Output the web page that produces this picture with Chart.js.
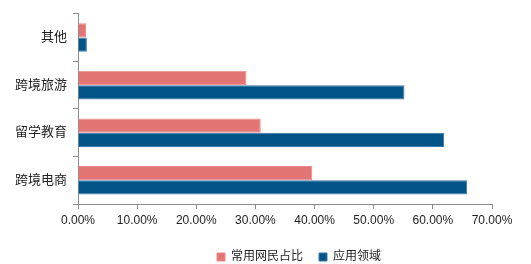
<!DOCTYPE html>
<html>
<head>
<meta charset="utf-8">
<script src="https://cdn.jsdelivr.net/npm/chart.js@4"></script>
<style>
  html, body { margin: 0; padding: 0; background: #fff; }
  #wrap { width: 531px; height: 264px; }
</style>
</head>
<body>
<div id="wrap"><canvas id="chart"></canvas></div>
<script>
// 分类
const categories = ["其他", "跨境旅游", "留学教育", "跨境电商"];
// 系列
const seriesNames = ["常用网民占比", "应用领域"];
const netizenShare = [1.35, 28.5, 30.9, 39.6];
const appField = [1.5, 55.2, 61.9, 65.8];
// 刻度
const xTicks = [0, 10, 20, 30, 40, 50, 60, 70];

const font = { family: "'Liberation Sans', 'Noto Sans CJK SC', sans-serif", size: 12 };

// 图例整体右移、下移, 与原图位置对齐
const shiftLegend = {
  id: "shiftLegend",
  afterLayout(chart) {
    chart.legend.left += 53;
    chart.legend.right += 53;
    chart.legend.top += 3;
    chart.legend.bottom += 3;
  }
};

new Chart(document.getElementById("chart"), {
  type: "bar",
  data: {
    labels: categories,
    datasets: [
      {
        label: seriesNames[0],
        data: netizenShare,
        backgroundColor: "#e37474",
        borderColor: "#ec8a8a",
        borderWidth: 1,
        barPercentage: 1,
        categoryPercentage: 0.6
      },
      {
        label: seriesNames[1],
        data: appField,
        backgroundColor: "#005488",
        borderColor: "#3a78a8",
        borderWidth: 1,
        barPercentage: 1,
        categoryPercentage: 0.6
      }
    ]
  },
  plugins: [shiftLegend],
  options: {
    indexAxis: "y",
    responsive: true,
    maintainAspectRatio: false,
    animation: false,
    layout: { padding: { left: 0, right: 39, top: 4, bottom: 0 } },
    scales: {
      x: {
        min: 0,
        max: 70,
        afterBuildTicks: (s) => { s.ticks = xTicks.map(v => ({ value: v })); },
        afterFit: (s) => { s.height = 28; },
        border: { color: "#8c8c8c" },
        grid: { drawOnChartArea: false, tickLength: 5, color: "#8c8c8c" },
        ticks: {
          color: "#222",
          font: font,
          padding: 4,
          maxRotation: 0,
          callback: (v) => v.toFixed(2) + "%"
        }
      },
      y: {
        afterFit: (s) => { s.width = 78; },
        border: { color: "#8c8c8c" },
        grid: { drawOnChartArea: false, tickLength: 5, color: "#8c8c8c" },
        ticks: { color: "#222", font: { family: font.family, size: 13 }, padding: 6 }
      }
    },
    plugins: {
      legend: {
        position: "bottom",
        maxHeight: 32,
        labels: { boxWidth: 8, boxHeight: 8, color: "#222", font: font, padding: 16 }
      },
      tooltip: { enabled: false }
    }
  }
});
</script>
</body>
</html>
